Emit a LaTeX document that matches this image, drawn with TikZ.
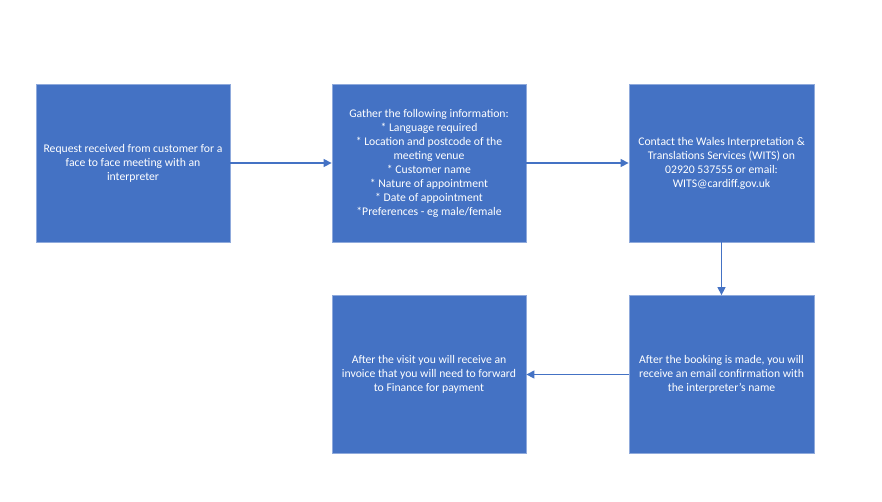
\documentclass[tikz,border=0pt]{standalone}
\usepackage{fontspec}
\setmainfont{Carlito}
\usetikzlibrary{arrows.meta}
\definecolor{boxblue}{HTML}{4472C4}
\definecolor{boxedge}{HTML}{8FAADC}
\tikzset{
  stepbox/.style={draw=boxedge, line width=0.8pt, fill=boxblue, text=white,
    minimum height=158pt, align=center, inner sep=0pt,
    font=\fontsize{11.7}{14}\selectfont},
  flow/.style={draw=boxblue, line width=1.3pt, -{Triangle[length=8pt,width=8pt]}}
}
\begin{document}
\begin{tikzpicture}[x=1pt,y=-1pt]
        \useasboundingbox (0,0) rectangle (882,501);
        \node[stepbox, minimum width=194pt] (request) at (133,163) {Request received from customer for a\\face to face meeting with an\\interpreter};
        \node[stepbox, minimum width=194pt] (gather) at (429,163) {Gather the following information:\\* Language required\\* Location and postcode of the\\meeting venue\\* Customer name\\* Nature of appointment\\* Date of appointment\\*Preferences - eg male/female};
        \node[stepbox, minimum width=185pt] (contact) at (721.5,163) {Contact the Wales Interpretation \&\\Translations Services (WITS) on\\02920 537555 or email:\\WITS@cardiff.gov.uk};
        \node[stepbox, minimum width=185pt] (booking) at (721.5,374.5) {After the booking is made, you will\\receive an email confirmation with\\the interpreter's name};
        \node[stepbox, minimum width=194pt] (invoice) at (429,374.5) {After the visit you will receive an\\invoice that you will need to forward\\to Finance for payment};
        \draw[flow] (request) -- (gather);
        \draw[flow] (gather) -- (contact);
        \draw[flow] (contact) -- (booking);
        \draw[flow] (booking) -- (invoice);
    \end{tikzpicture}
\end{document}
